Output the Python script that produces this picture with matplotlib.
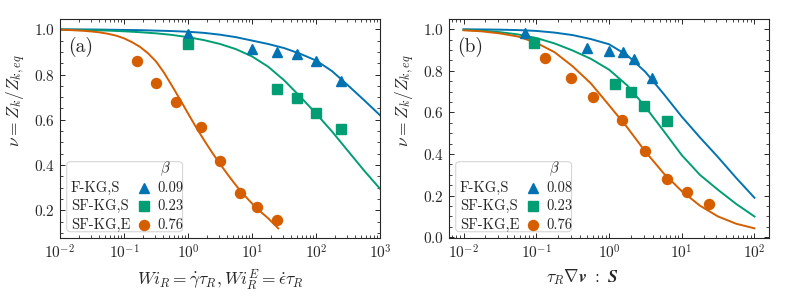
import matplotlib
matplotlib.use("Agg")
import matplotlib.pyplot as plt
from matplotlib.patches import FancyBboxPatch

plt.rcParams.update({
    "font.family": "serif",
    "font.serif": ["cmr10"],
    "mathtext.fontset": "cm",
    "axes.formatter.use_mathtext": True,
    "axes.unicode_minus": False,
    "text.color": "0.15",
    "axes.labelcolor": "0.15",
    "xtick.color": "0.15",
    "ytick.color": "0.15",
    "axes.edgecolor": "0.15",
})

C_BLUE = "#0173B2"
C_GREEN = "#029E73"
C_ORANGE = "#D55E00"

# ---------------- panel (a) data ----------------
a_blue_x = [1, 10, 25, 50, 100, 250]
a_blue_y = [0.98, 0.911, 0.898, 0.889, 0.86, 0.771]
a_green_x = [1, 25, 50, 100, 250]
a_green_y = [0.935, 0.737, 0.697, 0.628, 0.56]
a_orange_x = [0.16, 0.32, 0.64, 1.6, 3.2, 6.4, 12, 25]
a_orange_y = [0.861, 0.764, 0.677, 0.567, 0.417, 0.278, 0.215, 0.156]

a_curve_x = [0.01, 0.0178, 0.0316, 0.0562, 0.1, 0.178, 0.316, 0.562, 1, 1.78, 3.16,
             5.62, 10, 17.8, 31.6, 56.2, 100, 178, 316, 562, 1000]
a_blue_curve = [1.0, 0.9995, 0.999, 0.998, 0.997, 0.996, 0.994, 0.992, 0.989, 0.984, 0.976,
                0.965, 0.95, 0.935, 0.917, 0.892, 0.862, 0.815, 0.752, 0.687, 0.62]
a_green_curve = [0.998, 0.997, 0.996, 0.994, 0.991, 0.987, 0.982, 0.975, 0.965, 0.952, 0.935,
                 0.912, 0.88, 0.835, 0.775, 0.703, 0.628, 0.548, 0.462, 0.376, 0.295]
a_orange_curve_x = [0.01, 0.0133, 0.0178, 0.0237, 0.0316, 0.0422, 0.0562, 0.075, 0.1,
                    0.133, 0.178, 0.237, 0.316, 0.422, 0.562, 0.75, 1, 1.33, 1.78, 2.37,
                    3.16, 4.22, 5.62, 7.5, 10, 13.3, 17.8, 25.7]
a_orange_curve = [0.998, 0.997, 0.995, 0.993, 0.99, 0.986, 0.98, 0.972, 0.96, 0.943,
                  0.922, 0.894, 0.858, 0.808, 0.75, 0.69, 0.628, 0.568, 0.51, 0.456,
                  0.405, 0.356, 0.31, 0.268, 0.23, 0.196, 0.165, 0.12]

# ---------------- panel (b) data ----------------
b_blue_x = [0.0705, 0.50, 1.0, 1.55, 2.24, 3.88]
b_blue_y = [0.981, 0.91, 0.897, 0.889, 0.856, 0.768]
b_green_x = [0.093, 1.22, 1.98, 3.01, 6.24]
b_green_y = [0.933, 0.737, 0.70, 0.631, 0.561]
b_orange_x = [0.133, 0.296, 0.60, 1.52, 3.14, 6.24, 11.7, 24]
b_orange_y = [0.864, 0.764, 0.676, 0.564, 0.417, 0.28, 0.218, 0.16]

b_curve_x = [0.01, 0.0178, 0.0316, 0.0562, 0.1, 0.178, 0.316, 0.562, 1, 1.78, 3.16,
             5.62, 10, 17.8, 31.6, 56.2, 100]
b_blue_curve = [1.0, 0.999, 0.998, 0.996, 0.992, 0.984, 0.972, 0.953, 0.928, 0.875, 0.795,
                0.69, 0.58, 0.48, 0.385, 0.285, 0.19]
b_green_curve = [0.997, 0.993, 0.986, 0.975, 0.958, 0.932, 0.898, 0.858, 0.806, 0.73, 0.627,
                 0.512, 0.395, 0.30, 0.228, 0.16, 0.10]
b_orange_curve = [0.995, 0.99, 0.98, 0.965, 0.935, 0.89, 0.822, 0.74, 0.635, 0.528, 0.412,
                  0.308, 0.222, 0.152, 0.10, 0.065, 0.043]

names = ["F-KG,S", "SF-KG,S", "SF-KG,E"]
a_betas = ["0.09", "0.23", "0.76"]
b_betas = ["0.08", "0.23", "0.76"]

colors = [C_BLUE, C_GREEN, C_ORANGE]
markers = ["^", "s", "o"]
msizes = [7.2, 6.6, 7.2]

fig = plt.figure(figsize=(7.89, 2.96), dpi=100)
axa = fig.add_axes([60 / 789, 57.7 / 296, 320 / 789, 219 / 296])
axb = fig.add_axes([449 / 789, 57.7 / 296, 320 / 789, 219 / 296])


def style_axes(ax):
    ax.set_xscale("log")
    ax.minorticks_on()
    ax.tick_params(which="both", direction="in", top=True, right=True, labelsize=11)
    ax.tick_params(which="major", length=3.5, width=0.7)
    ax.tick_params(which="minor", length=2.0, width=0.6)
    for s in ax.spines.values():
        s.set_linewidth(0.8)


def draw_legend(ax, betas):
    box = FancyBboxPatch((0.021, 0.030), 0.362, 0.320, transform=ax.transAxes,
                         boxstyle="round,pad=0,rounding_size=0.015",
                         facecolor="white", edgecolor="0.8", linewidth=0.8,
                         alpha=0.8, zorder=5)
    ax.add_patch(box)
    ax.text(0.314, 0.318, r"$\beta$", transform=ax.transAxes, fontsize=10.5,
            ha="left", va="center", zorder=6)
    rows = [0.231, 0.148, 0.0603]
    for yy, nm, bt, c, m, ms in zip(rows, names, betas, colors, markers, msizes):
        ax.text(0.0334, yy, nm, transform=ax.transAxes, fontsize=10.5,
                ha="left", va="center", zorder=6)
        ax.plot([0.263], [yy], marker=m, color=c, ms=ms, linestyle="none",
                transform=ax.transAxes, clip_on=False, zorder=6)
        ax.text(0.305, yy, bt, transform=ax.transAxes, fontsize=10.5,
                ha="left", va="center", zorder=6)


# panel (a)
style_axes(axa)
axa.plot(a_curve_x, a_blue_curve, color=C_BLUE, lw=1.4)
axa.plot(a_curve_x, a_green_curve, color=C_GREEN, lw=1.4)
axa.plot(a_orange_curve_x, a_orange_curve, color=C_ORANGE, lw=1.4)
axa.plot(a_blue_x, a_blue_y, "^", color=C_BLUE, ms=msizes[0])
axa.plot(a_green_x, a_green_y, "s", color=C_GREEN, ms=msizes[1])
axa.plot(a_orange_x, a_orange_y, "o", color=C_ORANGE, ms=msizes[2])
axa.set_xlim(1e-2, 1e3)
axa.set_ylabel(r"$\nu = Z_k/Z_{k,eq}$", fontsize=12.5)
axa.set_xlabel(r"$Wi_R = \dot{\gamma}\tau_R, Wi_R^E = \dot{\epsilon}\tau_R$", fontsize=12.5)
axa.yaxis.label.set_y(0.63)
axa.text(0.024, 0.875, "(a)", transform=axa.transAxes, fontsize=14,
         ha="left", va="center")
draw_legend(axa, a_betas)

# panel (b)
style_axes(axb)
axb.plot(b_curve_x, b_blue_curve, color=C_BLUE, lw=1.4)
axb.plot(b_curve_x, b_green_curve, color=C_GREEN, lw=1.4)
axb.plot(b_curve_x, b_orange_curve, color=C_ORANGE, lw=1.4)
axb.plot(b_blue_x, b_blue_y, "^", color=C_BLUE, ms=msizes[0])
axb.plot(b_green_x, b_green_y, "s", color=C_GREEN, ms=msizes[1])
axb.plot(b_orange_x, b_orange_y, "o", color=C_ORANGE, ms=msizes[2])
axb.set_ylabel(r"$\nu = Z_k/Z_{k,eq}$", fontsize=12.5)
axb.set_xlabel(r"$\tau_R \boldsymbol{\nabla} \boldsymbol{v}\ :\ \boldsymbol{S}$", fontsize=12.5)
axb.yaxis.label.set_y(0.63)
axb.xaxis.label.set_x(0.417)
axb.text(0.024, 0.875, "(b)", transform=axb.transAxes, fontsize=14,
         ha="left", va="center")
draw_legend(axb, b_betas)

fig.savefig("out.png", dpi=100)
